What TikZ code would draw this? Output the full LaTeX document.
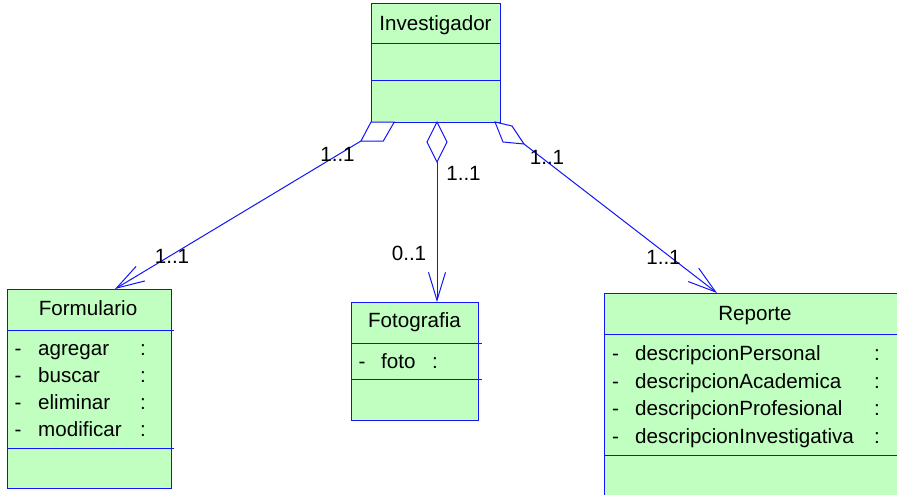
\documentclass[tikz,border=0pt]{standalone}
\usepackage{fontspec}
\setmainfont{Liberation Sans}
\usetikzlibrary{arrows.meta}
\definecolor{umlblue}{RGB}{20,20,250}
\definecolor{umlfill}{RGB}{192,255,192}
\tikzset{
  classbox/.style={draw=umlblue, fill=umlfill, line width=1pt, inner sep=0pt, outer sep=0pt, rectangle},
  divider/.style={draw=umlblue, line width=1pt},
  txt/.style={font=\fontsize{20.6pt}{24pt}\selectfont, inner sep=0pt, text=black},
  assoc/.style={draw=umlblue, line width=1pt},
  navarrow/.style={assoc, -{Straight Barb[length=28pt, width=17pt, line width=1pt]}},
  aggdiamond/.style={draw=umlblue, line width=1pt, fill=white},
}
\begin{document}
\begin{tikzpicture}[x=1pt, y=-1pt]
\clip (0,0) rectangle (897,495);
\fill[white] (0,0) rectangle (897,495);

% ---- Investigador ----
\node[classbox, minimum width=129pt, minimum height=118pt] (inv) at (435.5,63) {};
\draw[divider] (371,44) -- (500,44);
\draw[divider] (371,81) -- (500,81);
\node[txt, anchor=base] (invT) at (435.5,30.5) {Investigador};

% ---- Formulario ----
\node[classbox, minimum width=164pt, minimum height=199pt] (form) at (89,388.5) {};
\draw[divider] (7,330) -- (174,330);
\draw[divider] (7,448) -- (174,448);
\node[txt, anchor=base] (formT) at (88,315) {Formulario};
\foreach \n/\y in {agregar/355, buscar/382, eliminar/409, modificar/436}{
  \node[txt, anchor=base] (fd\n) at (18,\y) {-};
  \node[txt, anchor=base west] (fa\n) at (38,\y) {\n};
  \node[txt, anchor=base] (fc\n) at (143,\y) {:};
}

% ---- Fotografia ----
\node[classbox, minimum width=127pt, minimum height=118pt] (foto) at (414.5,361) {};
\draw[divider] (351,343) -- (482,343);
\draw[divider] (351,379) -- (482,379);
\node[txt, anchor=base] (fotoT) at (414.5,327.5) {Fotografia};
\node[txt, anchor=base] (fotoD) at (362,368) {-};
\node[txt, anchor=base west] (fotoA) at (381,368) {foto};
\node[txt, anchor=base] (fotoC) at (435,368) {:};

% ---- Reporte ----
\node[classbox, minimum width=302pt, minimum height=227pt] (rep) at (755,406.5) {};
\draw[divider] (604,334) -- (906,334);
\draw[divider] (604,455) -- (906,455);
\node[txt, anchor=base] (repT) at (755,320) {Reporte};
\foreach \n/\y in {descripcionPersonal/360, descripcionAcademica/388, descripcionProfesional/415.5, descripcionInvestigativa/443}{
  \node[txt, anchor=base] (rd\n) at (615.5,\y) {-};
  \node[txt, anchor=base west] (ra\n) at (635,\y) {\n};
  \node[txt, anchor=base] (rc\n) at (877,\y) {:};
}

% ---- aggregation ends on Investigador ----
\coordinate (aL1) at (371,122);
\coordinate (aL2) at (394.3,122);
\coordinate (aL3) at (383.3,141);
\coordinate (aL4) at (361,141);
\draw[aggdiamond] (aL1) -- (aL2) -- (aL3) -- (aL4) -- cycle;

\coordinate (aM1) at (437,122);
\coordinate (aM2) at (447,142);
\coordinate (aM3) at (437,162);
\coordinate (aM4) at (427,142);
\draw[aggdiamond] (aM1) -- (aM2) -- (aM3) -- (aM4) -- cycle;

\coordinate (aR1) at (495,122);
\coordinate (aR2) at (512,126);
\coordinate (aR3) at (524,144);
\coordinate (aR4) at (503,142);
\draw[aggdiamond] (aR1) -- (aR2) -- (aR3) -- (aR4) -- cycle;

% ---- navigable ends on the parts ----
\coordinate (tipForm) at (115,289);
\coordinate (tipFoto) at (437,302);
\coordinate (tipRep) at (717,293);

\draw[navarrow] (aL4) -- (tipForm);
\draw[navarrow] (aM3) -- (tipFoto);
\draw[navarrow] (aR3) -- (tipRep);

% ---- multiplicities ----
\node[txt, anchor=base] (mL1) at (337.5,161) {1..1};
\node[txt, anchor=base] (mL2) at (172,263) {1..1};
\node[txt, anchor=base] (mM1) at (463.5,180) {1..1};
\node[txt, anchor=base] (mM2) at (409,260) {0..1};
\node[txt, anchor=base] (mR1) at (547,164) {1..1};
\node[txt, anchor=base] (mR2) at (663.5,264) {1..1};
\end{tikzpicture}
\end{document}
